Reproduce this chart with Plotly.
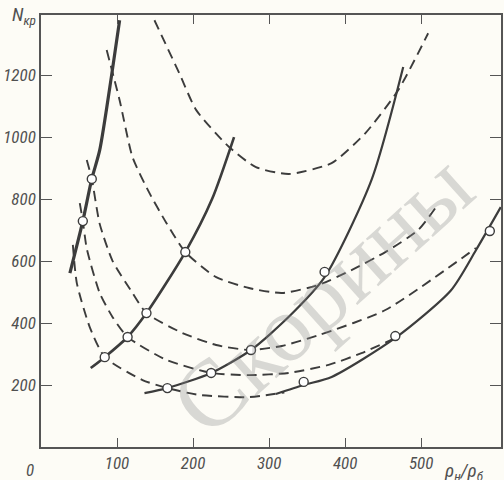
import plotly.graph_objects as go

# ---------------- data ----------------
# solid curves
s1_x = [38.0, 55.0, 66.8, 77.2, 92.9, 103.4]
s1_y = [561, 729, 865, 958, 1200, 1377]

s2_x = [65.4, 83.8, 113.9, 138.7, 189.8, 225.0, 253.9]
s2_y = [255, 290, 355, 432, 629, 800, 1000]

s3_x = [136.1, 166.2, 223.8, 276.2, 325.9, 373.0, 434.6, 476.4]
s3_y = [174, 190, 239, 313, 420, 548, 861, 1226]

s4_x = [308.9, 345.5, 382.2, 466.0, 539.3, 572.0, 604.7]
s4_y = [171, 200, 226, 352, 506, 635, 774]

# dashed curves
d1_x = [149.2, 181.9, 204.2, 247.4, 282.7, 325.9, 382.2, 426.7, 469.9, 509.2]
d1_y = [1377, 1206, 1087, 968, 903, 881, 916, 1013, 1152, 1335]

d2_x = [86.4, 103.4, 120.4, 142.7, 164.9, 189.8, 230.4, 273.6, 316.8, 365.2, 408.4, 452.9, 496.1, 519.6]
d2_y = [1281, 1119, 935, 819, 723, 629, 548, 513, 497, 523, 571, 629, 700, 774]

d3_x = [60.2, 66.8, 77.2, 94.2, 120.4, 138.7, 185.9, 230.4, 273.6, 316.8, 365.2, 452.9, 572.0]
d3_y = [926, 865, 720, 600, 497, 432, 368, 329, 313, 326, 361, 442, 642]

d4_x = [51.0, 55.0, 60.2, 77.2, 94.2, 113.9, 164.9, 223.8, 273.6, 325.9, 378.3, 421.5, 466.0]
d4_y = [787, 729, 640, 497, 419, 355, 281, 239, 232, 239, 265, 303, 352]

d5_x = [41.9, 47.1, 64.1, 83.8, 133.5, 166.2, 208.1, 273.6, 320.0]
d5_y = [652, 529, 387, 290, 216, 190, 168, 161, 176]

# open circles (experimental points)
pt_x = [55.0, 66.8, 83.8, 113.9, 138.7, 189.8, 166.2, 223.8, 276.2, 373.0, 345.5, 466.0, 590.3]
pt_y = [729, 865, 290, 355, 432, 629, 190, 239, 313, 565, 210, 358, 697]

# axis ticks
x_ticks = [100, 200, 300, 400, 500]
y_ticks = [200, 400, 600, 800, 1000, 1200]

# ---------------- figure ----------------
INK = "#3c3c3c"
fig = go.Figure()

def solid(x, y, w):
    fig.add_trace(go.Scatter(x=x, y=y, mode="lines", line=dict(color=INK, width=w, shape="spline", smoothing=0.7),
                             hoverinfo="skip", showlegend=False))

def dashed(x, y):
    fig.add_trace(go.Scatter(x=x, y=y, mode="lines",
                             line=dict(color=INK, width=1.9, dash="10px,6px", shape="spline", smoothing=0.6),
                             hoverinfo="skip", showlegend=False))

for dx, dy in [(d1_x, d1_y), (d2_x, d2_y), (d3_x, d3_y), (d4_x, d4_y), (d5_x, d5_y)]:
    dashed(dx, dy)

solid(s1_x, s1_y, 3.2)
solid(s2_x, s2_y, 2.6)
solid(s3_x, s3_y, 2.2)
solid(s4_x, s4_y, 2.2)

fig.add_trace(go.Scatter(x=pt_x, y=pt_y, mode="markers",
                         marker=dict(symbol="circle", size=9, color="white", line=dict(color=INK, width=1.4)),
                         hoverinfo="skip", showlegend=False))

FONT = "Liberation Sans Narrow, Roboto Condensed, Arial Narrow, Liberation Sans, sans-serif"
tickfont = dict(family=FONT, size=17, color="#505050", style="italic")

fig.update_xaxes(range=[0, 605], tickvals=x_ticks, ticktext=[str(v) for v in x_ticks],
                 ticks="inside", ticklen=9, tickwidth=1.2, tickcolor="#555",
                 showline=True, linecolor="#555", linewidth=1.6, mirror="ticks",
                 showgrid=False, zeroline=False, tickfont=tickfont)
fig.update_yaxes(range=[0, 1394], tickvals=y_ticks, ticktext=[str(v) for v in y_ticks],
                 ticks="inside", ticklen=11, tickwidth=1.2, tickcolor="#555",
                 showline=True, linecolor="#555", linewidth=1.6, mirror="ticks",
                 showgrid=False, zeroline=False, tickfont=tickfont)

annos = [
    dict(text="0", x=-0.025, y=-0.025, xref="paper", yref="paper", xanchor="center", yanchor="top",
         showarrow=False, font=tickfont),
    dict(text="N<sub>кр</sub>", x=-0.068, y=1.0, xref="paper", yref="paper", xanchor="left", yanchor="middle",
         showarrow=False, font=dict(family=FONT, size=19, color="#505050", style="italic")),
    dict(text="ρ<sub>н</sub>/ρ<sub>б</sub>", x=0.872, y=-0.022, xref="paper", yref="paper",
         xanchor="left", yanchor="top", showarrow=False,
         font=dict(family=FONT, size=19, color="#505050", style="italic")),
    dict(text="Скорины", x=0.61, y=0.355, xref="paper", yref="paper", xanchor="center", yanchor="middle",
         textangle=-42, showarrow=False,
         font=dict(family="Liberation Serif, DejaVu Serif, serif", size=95, color="rgba(140,140,140,0.32)")),
]
fig.update_layout(
    width=504, height=480,
    margin=dict(l=41, r=1, t=15, b=33),
    paper_bgcolor="#fdfcf6", plot_bgcolor="#fdfcf6",
    annotations=annos,
    showlegend=False,
)

fig.write_html("out.html", post_script="document.body.style.margin='0';",
               config={"displayModeBar": False})
